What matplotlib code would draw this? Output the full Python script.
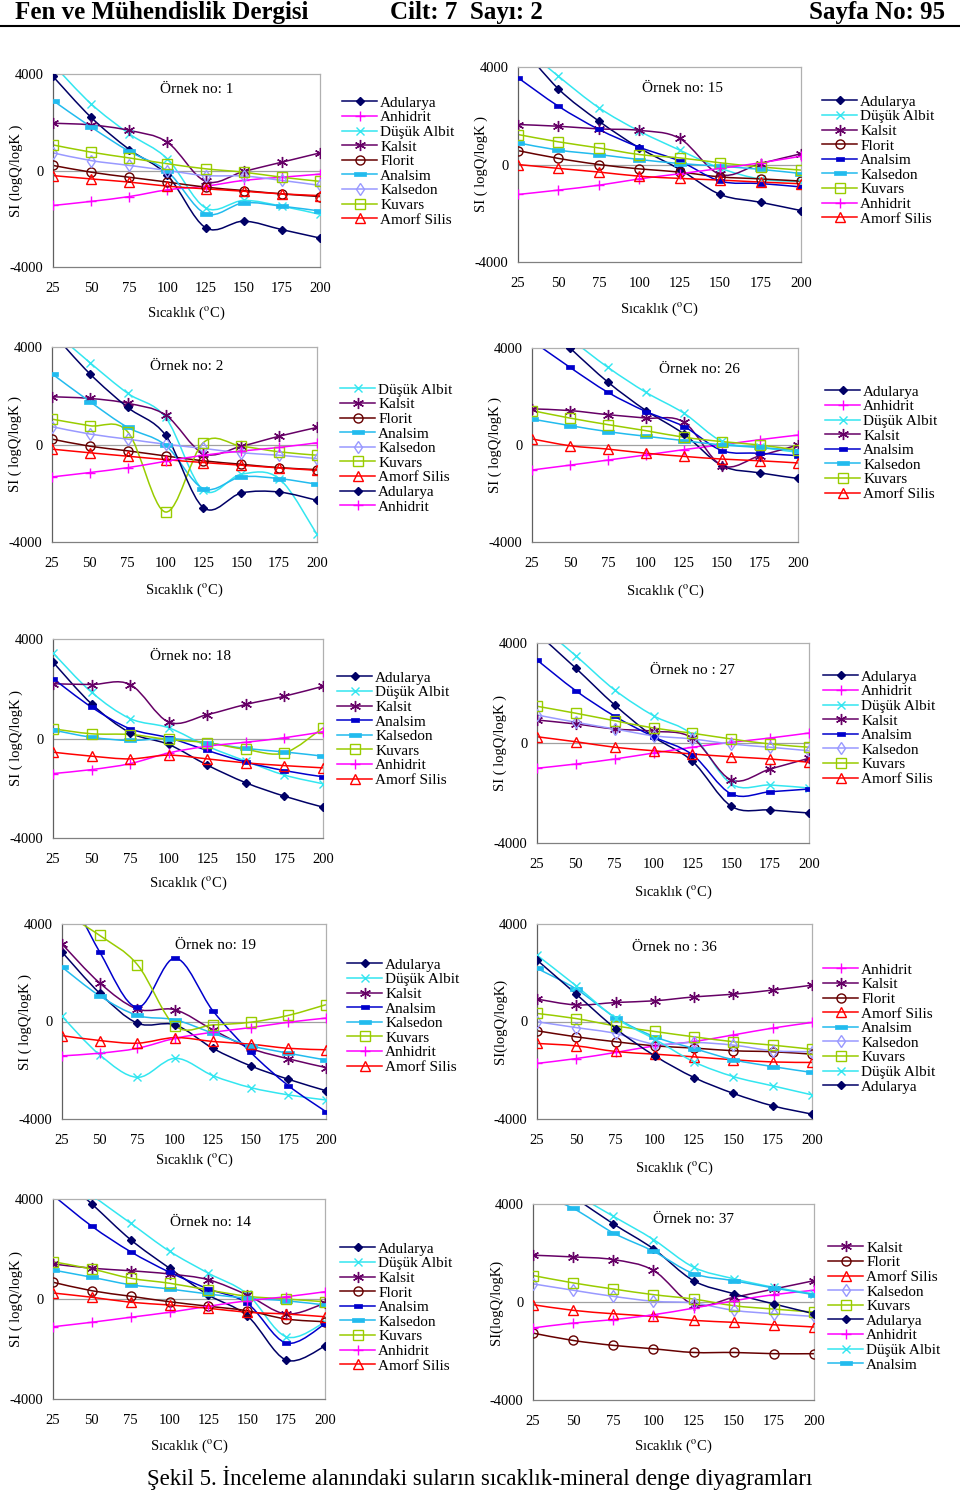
import numpy as np
import matplotlib
matplotlib.use("Agg")
import matplotlib.pyplot as plt
from matplotlib.path import Path
from matplotlib.patches import PathPatch
from matplotlib.lines import Line2D

plt.rcParams["font.family"] = ["Liberation Serif", "DejaVu Serif"]
plt.rcParams["mathtext.fontset"] = "stix"
plt.rcParams["axes.unicode_minus"] = False

# sıcaklık (x ekseni)
sicaklik = [25, 50, 75, 100, 125, 150, 175, 200]

# Örnek no: 1
ornek1 = {
    "Adularya":    [3900, 2200, 870, -200, -2370, -2100, -2450, -2800],
    "Anhidrit":    [-1450, -1280, -1080, -800, -650, -410, -280, -150],
    "Düşük Albit": [4400, 2760, 1520, 480, -1550, -1240, -1480, -1820],
    "Kalsit":      [1960, 1890, 1660, 1170, -450, -40, 345, 730],
    "Florit":      [210, -70, -280, -480, -690, -830, -970, -1080],
    "Analsim":     [2900, 1800, 790, -40, -1790, -1340, -1480, -1680],
    "Kalsedon":    [730, 410, 210, 0, -210, -230, -410, -620],
    "Kuvars":      [1060, 760, 520, 280, 70, -70, -280, -450],
    "Amorf Silis": [-210, -350, -480, -650, -760, -860, -970, -1040],
}
# Örnek no: 15
ornek15 = {
    "Adularya":    [5000, 3100, 1780, 680, -200, -1230, -1550, -1890],
    "Düşük Albit": [5000, 3620, 2330, 1370, 590, -150, -600, -700],
    "Kalsit":      [1640, 1570, 1460, 1400, 1070, -410, 40, 440],
    "Florit":      [570, 250, 0, -180, -310, -510, -590, -680],
    "Analsim":     [3560, 2390, 1440, 710, 140, -680, -780, -920],
    "Kalsedon":    [890, 590, 410, 205, 40, -70, -200, -370],
    "Kuvars":      [1230, 930, 680, 410, 270, 70, -100, -230],
    "Anhidrit":    [-1230, -1050, -850, -590, -380, -160, 70, 340],
    "Amorf Silis": [0, -160, -310, -480, -570, -640, -720, -790],
}
# Örnek no: 2
ornek2 = {
    "Düşük Albit": [4700, 3360, 2100, 1110, -1880, -1220, -1400, -3690],
    "Kalsit":      [1960, 1890, 1690, 1210, -370, -70, 340, 700],
    "Florit":      [220, -70, -260, -470, -670, -810, -950, -1030],
    "Analsim":     [2900, 1760, 700, -30, -1810, -1330, -1400, -1630],
    "Kalsedon":    [730, 430, 220, 10, -160, -340, -440, -580],
    "Kuvars":      [1040, 770, 520, -2770, 80, -70, -300, -440],
    "Amorf Silis": [-190, -340, -480, -620, -740, -850, -960, -1060],
    "Adularya":    [4600, 2900, 1520, 380, -2590, -1990, -1950, -2290],
    "Anhidrit":    [-1330, -1150, -950, -690, -440, -270, -120, 70],
}
# Örnek no: 26
ornek26 = {
    "Adularya":    [5500, 4000, 2590, 1420, 450, -850, -1150, -1380],
    "Anhidrit":    [-1030, -830, -620, -410, -190, 10, 220, 410],
    "Düşük Albit": [5700, 4400, 3200, 2170, 1310, 150, -100, -300],
    "Kalsit":      [1490, 1420, 1250, 1110, 940, -850, -440, 0],
    "Analsim":     [4300, 3200, 2170, 1380, 760, -230, -340, -440],
    "Kalsedon":    [1070, 800, 550, 360, 180, 0, -100, -230],
    "Kuvars":      [1420, 1110, 840, 590, 320, 140, 0, -210],
    "Amorf Silis": [250, -30, -170, -340, -470, -580, -650, -740],
}
# Örnek no: 18
ornek18 = {
    "Adularya":    [3070, 1390, 230, -240, -1070, -1780, -2320, -2760],
    "Düşük Albit": [3440, 1860, 800, 430, -310, -910, -1470, -1820],
    "Kalsit":      [2200, 2170, 2170, 660, 960, 1370, 1700, 2100],
    "Analsim":     [2410, 1260, 390, 30, -480, -950, -1290, -1540],
    "Kalsedon":    [340, 50, -80, 0, -170, -400, -540, -710],
    "Kuvars":      [390, 190, 160, -40, -170, -440, -580, 430],
    "Anhidrit":    [-1410, -1250, -1010, -580, -310, -150, 30, 270],
    "Amorf Silis": [-550, -710, -820, -670, -820, -980, -1090, -1180],
}
# Örnek no: 27
ornek27 = {
    "Adularya":    [4400, 2990, 1520, 250, -730, -2530, -2680, -2800],
    "Anhidrit":    [-1010, -840, -640, -400, -170, 30, 200, 400],
    "Düşük Albit": [4800, 3490, 2120, 1090, 320, -1640, -1680, -1800],
    "Kalsit":      [920, 760, 560, 470, 200, -1480, -1040, -610],
    "Analsim":     [3320, 2090, 1070, 250, -470, -2040, -1950, -1840],
    "Kalsedon":    [1120, 830, 560, 290, 160, -40, -170, -310],
    "Kuvars":      [1470, 1190, 890, 600, 390, 160, -40, -170],
    "Amorf Silis": [250, 50, -170, -310, -440, -550, -640, -770],
}
# Örnek no: 19
ornek19 = {
    "Adularya":    [2850, 1160, -70, -140, -1100, -1820, -2370, -2840],
    "Düşük Albit": [210, -1370, -2290, -1510, -2220, -2710, -3010, -3220],
    "Kalsit":      [3180, 1580, 510, 480, -340, -1100, -1530, -1890],
    "Analsim":     [5900, 2850, 580, 2600, 440, -1260, -2630, -3700],
    "Kalsedon":    [2230, 1050, 250, 70, -480, -990, -1300, -1580],
    "Kuvars":      [4500, 3530, 2330, -180, -140, -30, 250, 690],
    "Anhidrit":    [-1410, -1300, -1100, -690, -440, -250, -30, 140],
    "Amorf Silis": [-580, -780, -890, -660, -820, -930, -1100, -1160],
}
# Örnek no: 36
ornek36 = {
    "Anhidrit":    [-1720, -1520, -1270, -1000, -820, -550, -270, -40],
    "Kalsit":      [920, 680, 780, 850, 1010, 1120, 1290, 1490],
    "Florit":      [-380, -630, -830, -1000, -1090, -1200, -1240, -1340],
    "Amorf Silis": [-900, -1000, -1230, -1340, -1450, -1570, -1660, -1680],
    "Analsim":     [2180, 1330, 160, -630, -1110, -1570, -1850, -2090],
    "Kalsedon":    [-10, -250, -490, -930, -860, -970, -1200, -1240],
    "Kuvars":      [330, 120, -180, -410, -630, -830, -970, -1140],
    "Düşük Albit": [2720, 1460, 140, -730, -1660, -2260, -2640, -3010],
    "Adularya":    [2520, 1120, -290, -1410, -2300, -2950, -3460, -3800],
}
# Örnek no: 14
ornek14 = {
    "Adularya":    [5200, 3800, 2370, 1230, 160, -670, -2440, -1890],
    "Düşük Albit": [5300, 4150, 3030, 1910, 1030, 200, -1510, -930],
    "Kalsit":      [1400, 1230, 1130, 1000, 770, 160, -600, -170],
    "Florit":      [670, 330, 110, -110, -290, -470, -800, -910],
    "Analsim":     [4150, 2910, 1890, 1070, 400, -170, -1760, -1000],
    "Kalsedon":    [1160, 870, 570, 400, 200, 30, -70, -240],
    "Kuvars":      [1490, 1200, 830, 630, 360, 110, 0, -110],
    "Anhidrit":    [-1110, -930, -730, -530, -290, -70, 90, 290],
    "Amorf Silis": [240, 70, -130, -240, -370, -530, -600, -710],
}
# Örnek no: 37
ornek37 = {
    "Kalsit":      [1910, 1840, 1730, 1290, -110, 190, 530, 870],
    "Florit":      [-1270, -1570, -1770, -1910, -2060, -2060, -2110, -2110],
    "Amorf Silis": [-110, -340, -480, -590, -750, -830, -930, -1020],
    "Kalsedon":    [740, 480, 230, 30, -40, -340, -480, -590],
    "Kuvars":      [1080, 780, 530, 300, 120, -150, -290, -410],
    "Adularya":    [5400, 4300, 3190, 2170, 870, 340, -80, -480],
    "Anhidrit":    [-1060, -860, -720, -520, -250, 50, 300, 480],
    "Düşük Albit": [5400, 4450, 3500, 2550, 1420, 950, 600, 330],
    "Analsim":     [4500, 3820, 2820, 2070, 1160, 870, 570, 300],
}

# çizgi stilleri
dash = Path([(-1, -0.38), (1, -0.38), (1, 0.38), (-1, 0.38), (-1, -0.38)],
            [Path.MOVETO, Path.LINETO, Path.LINETO, Path.LINETO, Path.CLOSEPOLY])
stil = {
    "Adularya":    dict(color="#000066", marker="D", ms=4.5, mfc="#000066", mew=1),
    "Anhidrit":    dict(color="#FF00FF", marker="+", ms=7, mew=1),
    "Düşük Albit": dict(color="#33E6F0", marker="x", ms=6, mew=1),
    "Kalsit":      dict(color="#660066", marker=(6, 2, 0), ms=8, mew=1),
    "Florit":      dict(color="#660000", marker="o", ms=6.5, mfc="none", mew=1),
    "Kuvars":      dict(color="#99CC00", marker="s", ms=6.5, mfc="none", mew=1),
    "Amorf Silis": dict(color="#FF0000", marker="^", ms=6.5, mfc="none", mew=1),
}
analsim_mavi = dict(color="#0000CC", marker=dash, ms=6, mfc="#0000CC", mew=0.5)
analsim_cyan = dict(color="#22BBEE", marker=dash, ms=8, mfc="#22BBEE", mew=0.5)
kalsedon_cyan = dict(color="#22BBEE", marker=dash, ms=8, mfc="#22BBEE", mew=0.5)
kalsedon_lila = dict(color="#9999FF", marker="d", ms=6, mfc="none", mew=1)

# panel: veri, başlık, kutu (px), başlık konumu, y etiketi, lejant (px), analsim, kalsedon, x etiketi aralığı
paneller = [
    (ornek1, "Örnek no: 1", (53, 74, 320, 267), (0.54, 0.92), "SI (logQ/logK )", (342, 96), analsim_cyan, kalsedon_lila, 46),
    (ornek15, "Örnek no: 15", (518, 67, 801, 262), (0.58, 0.89), "SI ( logQ/logK )", (822, 95), analsim_mavi, kalsedon_cyan, 47),
    (ornek2, "Örnek no: 2", (52, 347, 317, 542), (0.51, 0.90), "SI ( logQ/logK )", (340, 383), analsim_cyan, kalsedon_lila, 48),
    (ornek26, "Örnek no: 26", (532, 348, 798, 542), (0.63, 0.89), "SI ( logQ/logK )", (825, 385), analsim_mavi, kalsedon_cyan, 49),
    (ornek18, "Örnek no: 18", (53, 639, 323, 838), (0.51, 0.91), "SI ( logQ/logK )", (337, 671), analsim_mavi, kalsedon_cyan, 45),
    (ornek27, "Örnek no : 27", (537, 643, 809, 843), (0.57, 0.865), "SI ( logQ/logK )", (823, 670), analsim_mavi, kalsedon_lila, 49),
    (ornek19, "Örnek no: 19", (62, 924, 326, 1119), (0.58, 0.89), "SI ( logQ/logK )", (347, 958), analsim_mavi, kalsedon_cyan, 41),
    (ornek36, "Örnek no : 36", (537, 924, 812, 1119), (0.50, 0.88), "SI(logQ/logK)", (823, 963), analsim_cyan, kalsedon_lila, 49),
    (ornek14, "Örnek no: 14", (53, 1199, 325, 1399), (0.58, 0.88), "SI ( logQ/logK )", (340, 1242), analsim_mavi, kalsedon_cyan, 47),
    (ornek37, "Örnek no: 37", (533, 1204, 814, 1400), (0.57, 0.92), "SI(logQ/logK)", (828, 1241), analsim_cyan, kalsedon_lila, 46),
]


def egri(x, y):
    # Excel tarzı yumuşatılmış çizgi (Bezier)
    p = np.column_stack([x, y]).astype(float)
    n = len(p)
    verts = [p[0]]
    codes = [Path.MOVETO]
    for i in range(n - 1):
        p0 = p[i - 1] if i > 0 else p[i]
        p3 = p[i + 2] if i + 2 < n else p[i + 1]
        verts += [p[i] + (p[i + 1] - p0) / 6, p[i + 1] - (p3 - p[i]) / 6, p[i + 1]]
        codes += [Path.CURVE4] * 3
    return Path(verts, codes)


W, H = 960, 1492
fig = plt.figure(figsize=(W / 100, H / 100), dpi=100)

for veri, baslik, (l, t, r, b), tpos, ylab, (lx, ly), an, ka, xoff in paneller:
    ax = fig.add_axes([l / W, 1 - b / H, (r - l) / W, (b - t) / H])
    ax.set_xlim(25, 200)
    ax.set_ylim(-4000, 4000)
    ax.axhline(0, color="#a0a0a0", lw=0.9, zorder=1)
    handles = []
    for ad, degerler in veri.items():
        st = stil.get(ad)
        if ad == "Analsim":
            st = an
        elif ad == "Kalsedon":
            st = ka
        ax.add_patch(PathPatch(egri(sicaklik, degerler), fill=False,
                               edgecolor=st["color"], lw=1.1, zorder=2))
        ax.plot(sicaklik, degerler, ls="none", zorder=3, **st)
        handles.append(Line2D([], [], lw=1.1, label=ad, **st))
    ax.set_xticks(sicaklik)
    ax.set_xticklabels([str(s) for s in sicaklik])
    ax.set_yticks([-4000, 0, 4000])
    ax.set_yticklabels(["-4000", "0", "4000"])
    ax.tick_params(length=0, labelsize=10.5)
    ax.tick_params(axis="x", pad=11)
    ax.tick_params(axis="y", pad=7)
    for s in ["top", "right"]:
        ax.spines[s].set_color("#b0b0b0")
    ax.spines["left"].set_color("#606060")
    ax.spines["bottom"].set_color("#808080")
    for s in ax.spines.values():
        s.set_linewidth(0.9)
    ax.text(tpos[0], tpos[1], baslik, transform=ax.transAxes, ha="center",
            va="center", fontsize=11)
    ax.set_ylabel(ylab, fontsize=10.5)
    ax.yaxis.set_label_coords(-30 / (r - l), 0.5)
    ax.set_xlabel("Sıcaklık ($^{\\mathrm{o}}$C)", fontsize=10.5)
    ax.xaxis.set_label_coords(0.5, -(xoff - 8) / (b - t))
    fig.legend(handles=handles, loc="upper left", bbox_to_anchor=(lx / W, 1 - ly / H),
               frameon=False, fontsize=11, borderpad=0, borderaxespad=0,
               labelspacing=0.06, handlelength=2.3, handletextpad=0.2)

# üst başlık
fig.text(15 / W, 1 - 12 / H, "Fen ve Mühendislik Dergisi", fontsize=18,
         fontweight="bold", va="center", ha="left")
fig.text(390 / W, 1 - 12 / H, "Cilt: 7  Sayı: 2", fontsize=18,
         fontweight="bold", va="center", ha="left")
fig.text(945 / W, 1 - 12 / H, "Sayfa No: 95", fontsize=18,
         fontweight="bold", va="center", ha="right")
fig.add_artist(Line2D([0, 1], [1 - 26 / H, 1 - 26 / H], color="black", lw=1.5))

fig.text(480 / W, 1 - 1478 / H,
         "Şekil 5. İnceleme alanındaki suların sıcaklık-mineral denge diyagramları",
         fontsize=16.5, ha="center", va="center")

fig.savefig("out.png", dpi=100)
